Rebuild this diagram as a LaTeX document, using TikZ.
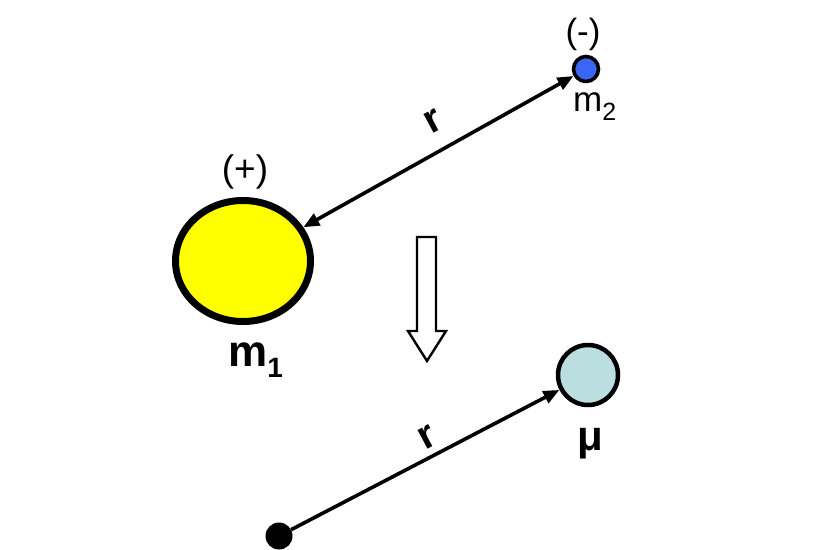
\documentclass[tikz,border=0pt]{standalone}
\usepackage{fontspec}
\setmainfont{Liberation Sans}
\usetikzlibrary{shapes.geometric,arrows.meta}
\definecolor{sunyellow}{RGB}{255,255,0}
\definecolor{partblue}{RGB}{59,102,245}
\definecolor{mulblue}{RGB}{187,223,224}
\tikzset{
  body/.style={circle,draw=black,inner sep=0pt},
  conn/.style={line width=3.6pt,draw=black},
  tipa/.style={-{Triangle[length=16pt,width=13pt]}},
  tipb/.style={{Triangle[length=16pt,width=13pt]}-{Triangle[length=16pt,width=13pt]}},
  lbl/.style={inner sep=0pt,text=black},
  rlbl/.style={inner sep=0pt,font=\bfseries\fontsize{40}{44}\selectfont,rotate=28}
}
\begin{document}
\begin{tikzpicture}[x=1pt,y=-1pt]
\useasboundingbox (0,0) rectangle (840,549);
% bodies
\node[ellipse,draw=black,fill=sunyellow,line width=7pt,minimum width=135pt,minimum height=121pt,inner sep=0pt] (m1) at (243,261) {};
\node[body,fill=partblue,line width=3.6pt,minimum size=25pt] (m2) at (586,69) {};
\node[body,fill=mulblue,line width=4.5pt,minimum size=60pt] (mu) at (588,375) {};
\node[circle,fill=black,inner sep=0pt,minimum size=27pt] (o) at (279,536) {};
% connectors
\draw[conn,tipb] (m1) -- (m2);
\draw[conn,tipa] (o) -- (mu);
% hollow arrow
\draw[line width=2.4pt,fill=white,line join=miter]
  (417,237) -- (436,237) -- (436,331) -- (446,331) -- (427,361) -- (408,331) -- (417,331) -- cycle;
% labels
\node[lbl,anchor=base,font=\fontsize{37}{40}\selectfont] (plus) at (245,181) {(+)};
\node[lbl,anchor=base,font=\fontsize{35}{40}\selectfont] (minus) at (583,43) {(-)};
\node[lbl,anchor=base west] (m1l) at (228,366) {\fontsize{44}{48}\selectfont\bfseries m\raisebox{-11pt}{\fontsize{28}{30}\selectfont\bfseries 1}};
\node[lbl,anchor=base west] (m2l) at (573,111) {\fontsize{35}{40}\selectfont m\raisebox{-9pt}{\fontsize{25}{28}\selectfont 2}};
\node[lbl,anchor=base west] (mul) at (577,450) {\fontsize{42}{46}\selectfont\bfseries μ};
\node[rlbl] (r1) at (433,121) {r};
\node[rlbl] (r2) at (427,437) {r};
\end{tikzpicture}
\end{document}
